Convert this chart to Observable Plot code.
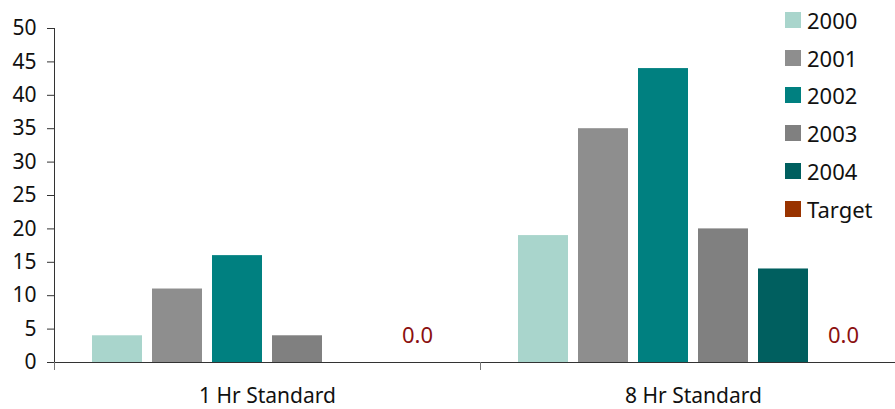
<!DOCTYPE html>
<html>
<head>
<meta charset="utf-8">
<script src="https://cdn.jsdelivr.net/npm/d3@7"></script>
<script src="https://cdn.jsdelivr.net/npm/@observablehq/plot@0.6"></script>
<style>
  body { margin: 0; background: #fff; }
  #wrap { position: relative; width: 895px; height: 409px; font-family: "Noto Sans", sans-serif; color: #111; }
  #legend { position: absolute; left: 785px; top: 1px; }
  #legend .item { display: flex; align-items: center; height: 37.8px; font-size: 22px; }
  #legend .sw { width: 16px; height: 16px; margin-right: 6px; flex: none; }
</style>
</head>
<body>
<div id="wrap"><div id="legend"></div></div>
<script>
// ---- data ----
const groups = ["1 Hr Standard", "8 Hr Standard"];
const series = ["2000", "2001", "2002", "2003", "2004", "Target"];
const values2000 = [4, 19];
const values2001 = [11, 35];
const values2002 = [16, 44];
const values2003 = [4, 20];
const values2004 = [0, 14];
const valuesTarget = [0, 0];
const yTicks = [0, 5, 10, 15, 20, 25, 30, 35, 40, 45, 50];

// ---- styles ----
const colors = ["#a9d5cc", "#8e8e8e", "#008080", "#808080", "#005f5f", "#993300"];
const axisColor = "#333";

const seriesValues = [values2000, values2001, values2002, values2003, values2004, valuesTarget];
const table = groups.flatMap((g, gi) =>
  series.map((s, si) => ({group: g, series: s, value: seriesValues[si][gi]}))
);

const W = 895, H = 409, mTop = 28, mBottom = 47, mLeft = 54, mRight = -11;
const plotH = H - mTop - mBottom;

const chart = Plot.plot({
  width: W,
  height: H,
  marginTop: mTop,
  marginBottom: mBottom,
  marginLeft: mLeft,
  marginRight: mRight,
  style: {fontFamily: "Noto Sans, sans-serif", color: "#111", background: "transparent"},
  fx: {domain: groups, padding: 0, label: null, axis: null},
  x: {domain: series, paddingInner: 1 / 6, paddingOuter: 0.633, axis: null},
  y: {domain: [0, 50], axis: null},
  color: {domain: series, range: colors},
  marks: [
    Plot.barY(table, {fx: "group", x: "series", y: "value", fill: "series"}),
    Plot.ruleY([0], {stroke: axisColor}),
    Plot.frame({anchor: "left", facetAnchor: "left", stroke: axisColor, insetBottom: -7}),
    Plot.frame({anchor: "left", stroke: "#777", insetTop: plotH, insetBottom: -7}),
    Plot.text(table.filter(d => d.series === "Target"), {
      fx: "group", x: "series", y: "value",
      text: d => d.value.toFixed(1),
      dy: -27, fontSize: 22, fill: "#8b1010"
    }),
    Plot.axisY(yTicks, {tickSize: 7, tickPadding: 11, fontSize: 21, stroke: axisColor, fill: "#111", label: null, tickFormat: d => String(d)}),
    Plot.axisFx({anchor: "bottom", tickSize: 0, tickPadding: 26, fontSize: 21, fill: "#111", label: null})
  ]
});

const wrap = document.getElementById("wrap");
wrap.insertBefore(chart, wrap.firstChild);

const legend = d3.select("#legend");
series.forEach((s, i) => {
  const item = legend.append("div").attr("class", "item");
  item.append("div").attr("class", "sw").style("background", colors[i]);
  item.append("span").text(s);
});
</script>
</body>
</html>
